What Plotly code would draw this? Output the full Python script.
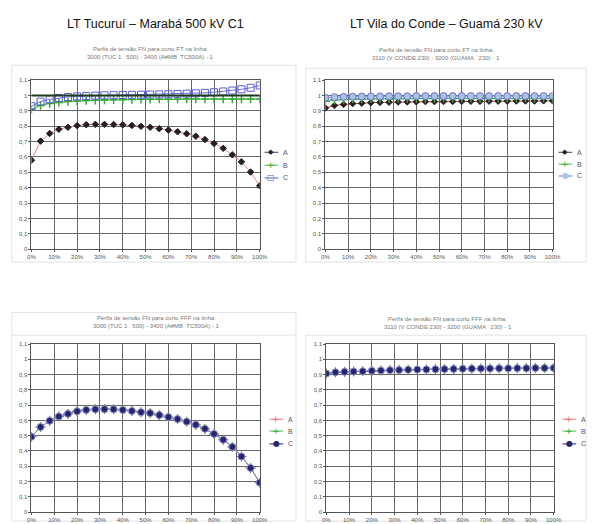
import plotly.graph_objects as go

W, H = 594, 524

# ---------------- data ----------------
pos_pct = [0, 4, 8, 12, 16, 20, 24, 28, 32, 36, 40, 44, 48, 52, 56, 60, 64, 68, 72, 76, 80, 84, 88, 92, 96, 100]

# LT Tucurui - Maraba, curto FT
A_FT_tuc = [0.579, 0.703, 0.753, 0.780, 0.793, 0.804, 0.810, 0.812, 0.812, 0.811, 0.809, 0.805, 0.799,
            0.793, 0.784, 0.775, 0.764, 0.751, 0.735, 0.713, 0.688, 0.656, 0.614, 0.568, 0.502, 0.412]
B_FT_tuc = [0.910, 0.935, 0.948, 0.955, 0.960, 0.964, 0.967, 0.969, 0.971, 0.972, 0.973, 0.974, 0.975,
            0.975, 0.976, 0.976, 0.976, 0.977, 0.977, 0.977, 0.977, 0.977, 0.977, 0.977, 0.977, 0.977]
C_FT_tuc = [0.930, 0.960, 0.975, 0.984, 0.990, 0.994, 0.997, 0.999, 1.001, 1.002, 1.003, 1.004, 1.005,
            1.006, 1.007, 1.008, 1.010, 1.012, 1.014, 1.017, 1.021, 1.026, 1.032, 1.040, 1.050, 1.065]
REF_LINE_tuc = 1.0

# LT Vila do Conde - Guama, curto FT
A_FT_vc = [0.918, 0.935, 0.942, 0.947, 0.950, 0.953, 0.955, 0.956, 0.957, 0.958, 0.959, 0.960, 0.960,
           0.961, 0.961, 0.962, 0.962, 0.962, 0.963, 0.963, 0.963, 0.964, 0.964, 0.964, 0.965, 0.965]
B_FT_vc = [0.962, 0.970, 0.974, 0.976, 0.977, 0.978, 0.979, 0.979, 0.980, 0.980, 0.980, 0.980, 0.981,
           0.981, 0.981, 0.981, 0.981, 0.981, 0.981, 0.981, 0.981, 0.981, 0.981, 0.981, 0.981, 0.981]
C_FT_vc = [0.985, 0.989, 0.991, 0.992, 0.993, 0.994, 0.994, 0.995, 0.995, 0.995, 0.996, 0.996, 0.996,
           0.996, 0.996, 0.996, 0.996, 0.996, 0.996, 0.996, 0.996, 0.996, 0.996, 0.996, 0.996, 0.996]

# LT Tucurui - Maraba, curto FFF (three phases coincide)
A_FFF_tuc = [0.493, 0.557, 0.598, 0.626, 0.643, 0.660, 0.669, 0.673, 0.674, 0.673, 0.669, 0.662, 0.654,
             0.648, 0.635, 0.622, 0.609, 0.592, 0.572, 0.545, 0.512, 0.474, 0.427, 0.364, 0.289, 0.193]
B_FFF_tuc = list(A_FFF_tuc)
C_FFF_tuc = list(A_FFF_tuc)

# LT Vila do Conde - Guama, curto FFF (three phases coincide)
A_FFF_vc = [0.907, 0.915, 0.918, 0.920, 0.922, 0.925, 0.927, 0.929, 0.930, 0.932, 0.933, 0.934, 0.935,
            0.936, 0.937, 0.938, 0.939, 0.940, 0.940, 0.941, 0.941, 0.942, 0.942, 0.943, 0.943, 0.944]
B_FFF_vc = list(A_FFF_vc)
C_FFF_vc = list(A_FFF_vc)

x_tick_vals = [0, 10, 20, 30, 40, 50, 60, 70, 80, 90, 100]
x_tick_text = ["0%", "10%", "20%", "30%", "40%", "50%", "60%", "70%", "80%", "90%", "100%"]
y_tick_vals = [0, 0.1, 0.2, 0.3, 0.4, 0.5, 0.6, 0.7, 0.8, 0.9, 1.0, 1.1]
y_tick_text = ["0", "0,1", "0,2", "0,3", "0,4", "0,5", "0,6", "0,7", "0,8", "0,9", "1", "1,1"]

line_titles = ["LT Tucuruí – Marabá 500 kV C1", "LT Vila do Conde – Guamá 230 kV"]
sub_line1_FT = "Perfis de tensão FN para curto FT na linha:"
sub_line1_FFF = "Perfis de tensão FN para curto FFF na linha:"
sub_line2 = ["3000 (TUC 1   500) - 3400 (A#MB  TC500A) - 1", "3110 (V CONDE 230) - 3200 (GUAMA   230) - 1"]
phases = ["A", "B", "C"]


def px(x):
    return x / W


def py(y):
    return 1 - y / H


fig = go.Figure()

# plot areas in pixels: (left, right, top, bottom)
areas = {
    1: (28, 261, 78, 249),
    2: (328, 560, 78, 249),
    3: (28, 261, 345, 515),
    4: (329, 561, 345, 515),
}


def add(sub, y, name, line_color, mcolor, symbol, msize, mline_color=None, mline_w=1, lw=1):
    xa = "x" if sub == 1 else f"x{sub}"
    ya = "y" if sub == 1 else f"y{sub}"
    fig.add_trace(go.Scatter(
        x=pos_pct, y=y, name=name, xaxis=xa, yaxis=ya, mode="lines+markers",
        line=dict(color=line_color, width=lw),
        marker=dict(symbol=symbol, size=msize, color=mcolor,
                    line=dict(color=mline_color or mcolor, width=mline_w)),
        showlegend=False, hoverinfo="x+y+name"))


# reference line at 1.0 (top-left)
fig.add_shape(type="line", xref="x", yref="y", x0=0, x1=100, y0=REF_LINE_tuc, y1=REF_LINE_tuc,
              line=dict(color="#1f3b1f", width=2), layer="above")

# panel 1
add(1, A_FT_tuc, "A", "#ee8888", "#222222", "diamond", 5)
add(1, B_FT_tuc, "B", "#44bb44", "#33aa33", "cross-thin", 6, "#33aa33", 1.5)
add(1, C_FT_tuc, "C", "#6f6fe0", "#5a5ad8", "square-open", 7, "#5a5ad8", 1)
# panel 2
add(2, A_FT_vc, "A", "#dd3333", "#222222", "diamond", 5)
add(2, B_FT_vc, "B", "#3f9f9f", "#33aa33", "cross-thin", 6, "#33aa33", 1.5)
add(2, C_FT_vc, "C", "#5fa0b0", "#a9c3e6", "circle", 7, "#7070d0", 1)
# panel 3
add(3, A_FFF_tuc, "A", "#ee7777", "#ee6666", "cross-thin", 7, "#ee6666", 1)
add(3, B_FFF_tuc, "B", "#44aa44", "#33aa33", "cross-thin", 7, "#33aa33", 1)
add(3, C_FFF_tuc, "C", "#9a8ad8", "#262670", "circle", 7, "#8f8fd8", 1)
# panel 4
add(4, A_FFF_vc, "A", "#ee7777", "#ee6666", "cross-thin", 7, "#ee6666", 1)
add(4, B_FFF_vc, "B", "#44aa44", "#33aa33", "cross-thin", 7, "#33aa33", 1)
add(4, C_FFF_vc, "C", "#9a8ad8", "#262670", "circle", 7, "#8f8fd8", 1)

tickfont = dict(family="Liberation Sans, Arial", size=6, color="#555555")
layout = dict(width=W, height=H, margin=dict(l=0, r=0, t=0, b=0),
              paper_bgcolor="white", plot_bgcolor="white", showlegend=False)
for sub, (l, r, t, b) in areas.items():
    xk = "xaxis" if sub == 1 else f"xaxis{sub}"
    yk = "yaxis" if sub == 1 else f"yaxis{sub}"
    ya = "y" if sub == 1 else f"y{sub}"
    xa = "x" if sub == 1 else f"x{sub}"
    layout[xk] = dict(domain=[px(l), px(r)], range=[0, 100], anchor=ya,
                      tickvals=x_tick_vals, ticktext=x_tick_text, tickfont=tickfont,
                      showgrid=True, gridcolor="#666666", gridwidth=1,
                      showline=True, linecolor="#555555", mirror=True, zeroline=False,
                      ticks="outside", ticklen=2, tickcolor="#555555", tickangle=0)
    layout[yk] = dict(domain=[py(b), py(t)], range=[0, 1.1], anchor=xa,
                      tickvals=y_tick_vals, ticktext=y_tick_text, tickfont=tickfont,
                      showgrid=True, gridcolor="#666666", gridwidth=1,
                      showline=True, linecolor="#555555", mirror=True, zeroline=False,
                      ticks="outside", ticklen=2, tickcolor="#555555")
fig.update_layout(**layout)

# faint frames of the embedded chart pictures
frames = [(8, 298, 63, 262), (308, 594, 66, 262), (8, 298, 313, 524), (308, 594, 336, 524)]
for (x0, x1, y0, y1) in frames:
    fig.add_shape(type="rect", xref="paper", yref="paper", x0=px(x0), x1=px(x1), y0=py(y1), y1=py(y0),
                  line=dict(color="#e2e2e2", width=1), layer="below")
fig.add_shape(type="line", xref="paper", yref="paper", x0=px(8), x1=px(298), y0=py(336), y1=py(336),
              line=dict(color="#e2e2e2", width=1), layer="below")

ann = []
# main titles
for cx, txt in zip([155, 452], line_titles):
    ann.append(dict(x=px(cx), y=py(21), xref="paper", yref="paper", text=txt, showarrow=False,
                    font=dict(family="Liberation Sans, Arial", size=12.5, color="#111111"),
                    xanchor="center", yanchor="middle"))
# subtitles
subs = [(150, 47, sub_line1_FT, sub_line2[0]), (441, 48, sub_line1_FT, sub_line2[1]),
        (156, 319, sub_line1_FFF, sub_line2[0]), (453, 320, sub_line1_FFF, sub_line2[1])]
for cx, cy, l1, l2 in subs:
    for k, t in enumerate([l1, l2]):
        ann.append(dict(x=px(cx), y=py(cy + k * 7.5), xref="paper", yref="paper", text=t, showarrow=False,
                        font=dict(family="Liberation Sans, Arial", size=6, color="#777777"),
                        xanchor="center", yanchor="middle"))

# manual legends (glyph + line + label)
legends = [
    (273, [151, 164, 177], [("#444444", "◆", "#222222", 7), ("#44bb44", "+", "#33aa33", 9), ("#5a5ad8", "□", "#5a5ad8", 8)]),
    (573, [151, 163, 175], [("#444444", "◆", "#222222", 7), ("#44bb44", "+", "#33aa33", 9), ("#7070d0", "●", "#a9c3e6", 8)]),
    (278, [421, 433, 446], [("#ee7777", "+", "#ee6666", 9), ("#44bb44", "+", "#33aa33", 9), ("#262670", "●", "#262670", 8)]),
    (577, [421, 433, 446], [("#ee7777", "+", "#ee6666", 9), ("#44bb44", "+", "#33aa33", 9), ("#262670", "●", "#262670", 8)]),
]
for cx, ys, items in legends:
    for yy, (lc, glyph, gc, gs), name in zip(ys, items, phases):
        fig.add_shape(type="line", xref="paper", yref="paper", x0=px(cx - 7), x1=px(cx + 7),
                      y0=py(yy), y1=py(yy), line=dict(color=lc, width=1))
        ann.append(dict(x=px(cx), y=py(yy), xref="paper", yref="paper", text=glyph, showarrow=False,
                        font=dict(family="DejaVu Sans", size=gs, color=gc),
                        xanchor="center", yanchor="middle"))
        ann.append(dict(x=px(cx + 10), y=py(yy), xref="paper", yref="paper", text=name, showarrow=False,
                        font=dict(family="Liberation Sans, Arial", size=7, color="#555555"),
                        xanchor="left", yanchor="middle"))

fig.update_layout(annotations=ann)
fig.write_html("out.html", config={"displayModeBar": False},
               post_script="document.body.style.margin='0';document.body.style.overflow='hidden';")
